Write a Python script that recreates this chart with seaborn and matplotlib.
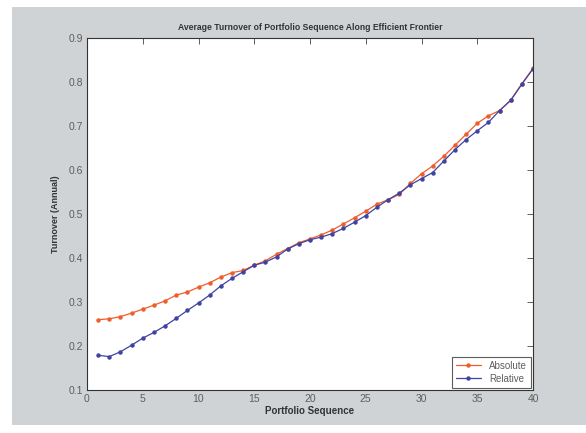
import matplotlib
matplotlib.use("Agg")
import matplotlib.pyplot as plt
import seaborn as sns
import pandas as pd
from matplotlib.patches import Rectangle

sequence = list(range(1, 41))
absolute = [0.260, 0.262, 0.267, 0.275, 0.284, 0.293, 0.303, 0.316, 0.323, 0.334,
            0.344, 0.357, 0.367, 0.372, 0.384, 0.394, 0.409, 0.422, 0.435, 0.444,
            0.453, 0.464, 0.478, 0.492, 0.507, 0.523, 0.533, 0.545, 0.570, 0.592,
            0.610, 0.632, 0.657, 0.682, 0.707, 0.724, 0.736, 0.760, 0.797, 0.832]
relative = [0.179, 0.176, 0.187, 0.202, 0.218, 0.231, 0.246, 0.263, 0.281, 0.298,
            0.316, 0.337, 0.354, 0.369, 0.384, 0.391, 0.403, 0.421, 0.433, 0.442,
            0.448, 0.456, 0.468, 0.482, 0.497, 0.516, 0.533, 0.548, 0.567, 0.581,
            0.595, 0.621, 0.647, 0.670, 0.690, 0.709, 0.736, 0.759, 0.796, 0.831]
series_names = ["Absolute", "Relative"]
x_ticks = [0, 5, 10, 15, 20, 25, 30, 35, 40]
y_ticks = [0.1, 0.2, 0.3, 0.4, 0.5, 0.6, 0.7, 0.8, 0.9]

df = pd.concat([
    pd.DataFrame({"seq": sequence, "val": absolute, "series": series_names[0]}),
    pd.DataFrame({"seq": sequence, "val": relative, "series": series_names[1]}),
])

sns.set_theme(style="white")
plt.rcParams['font.family'] = ['Liberation Sans Narrow', 'Liberation Sans', 'DejaVu Sans']

fig = plt.figure(figsize=(5.86, 4.33), dpi=100, facecolor="white")
bg = Rectangle((12 / 586, 8 / 433), 1 - 12 / 586, 1 - 15 / 433,
               transform=fig.transFigure, facecolor="#cfd3d6", edgecolor="none", zorder=-10)
fig.patches.append(bg)

ax = fig.add_axes([87 / 586, 1 - 390 / 433, (533 - 87) / 586, (390 - 38.5) / 433])
ax.set_zorder(5)
ax.set_facecolor("white")

palette = {"Absolute": "#ef5d2b", "Relative": "#3f43a3"}
sns.lineplot(data=df, x="seq", y="val", hue="series", palette=palette,
             marker="o", markersize=3.2, markeredgewidth=0, linewidth=0.9,
             ax=ax, legend=True)

ax.set_xlim(0, 40)
ax.set_ylim(0.1, 0.9)
ax.set_xticks(x_ticks)
ax.set_yticks(y_ticks)
ax.set_xticklabels([str(t) for t in x_ticks])
ax.set_yticklabels([f"{t:.1f}" for t in y_ticks])
ax.tick_params(direction="in", length=4, width=0.6, top=True, right=True,
               labelsize=7.5, labelcolor="#5e5e5e", color="#444444", pad=3)
for s in ax.spines.values():
    s.set_color("#333333")
    s.set_linewidth(0.8)

ax.set_title("Average Turnover of Portfolio Sequence Along Efficient Frontier",
             fontsize=6.2, fontweight="bold", color="#333333", pad=6)
ax.set_xlabel("Portfolio Sequence", fontsize=7, fontweight="bold", color="#333333", labelpad=1)
ax.set_ylabel("Turnover (Annual)", fontsize=6.5, fontweight="bold", color="#333333", labelpad=6)

leg = ax.legend(loc="lower right", fontsize=7, frameon=True, fancybox=False,
                handlelength=2.6, borderpad=0.4, labelspacing=0.3, borderaxespad=0.25,
                title=None)
leg.get_frame().set_edgecolor("#333333")
leg.get_frame().set_linewidth(0.8)
for t in leg.get_texts():
    t.set_color("#5e5e5e")

fig.savefig("out.png", dpi=100, facecolor=fig.get_facecolor())
